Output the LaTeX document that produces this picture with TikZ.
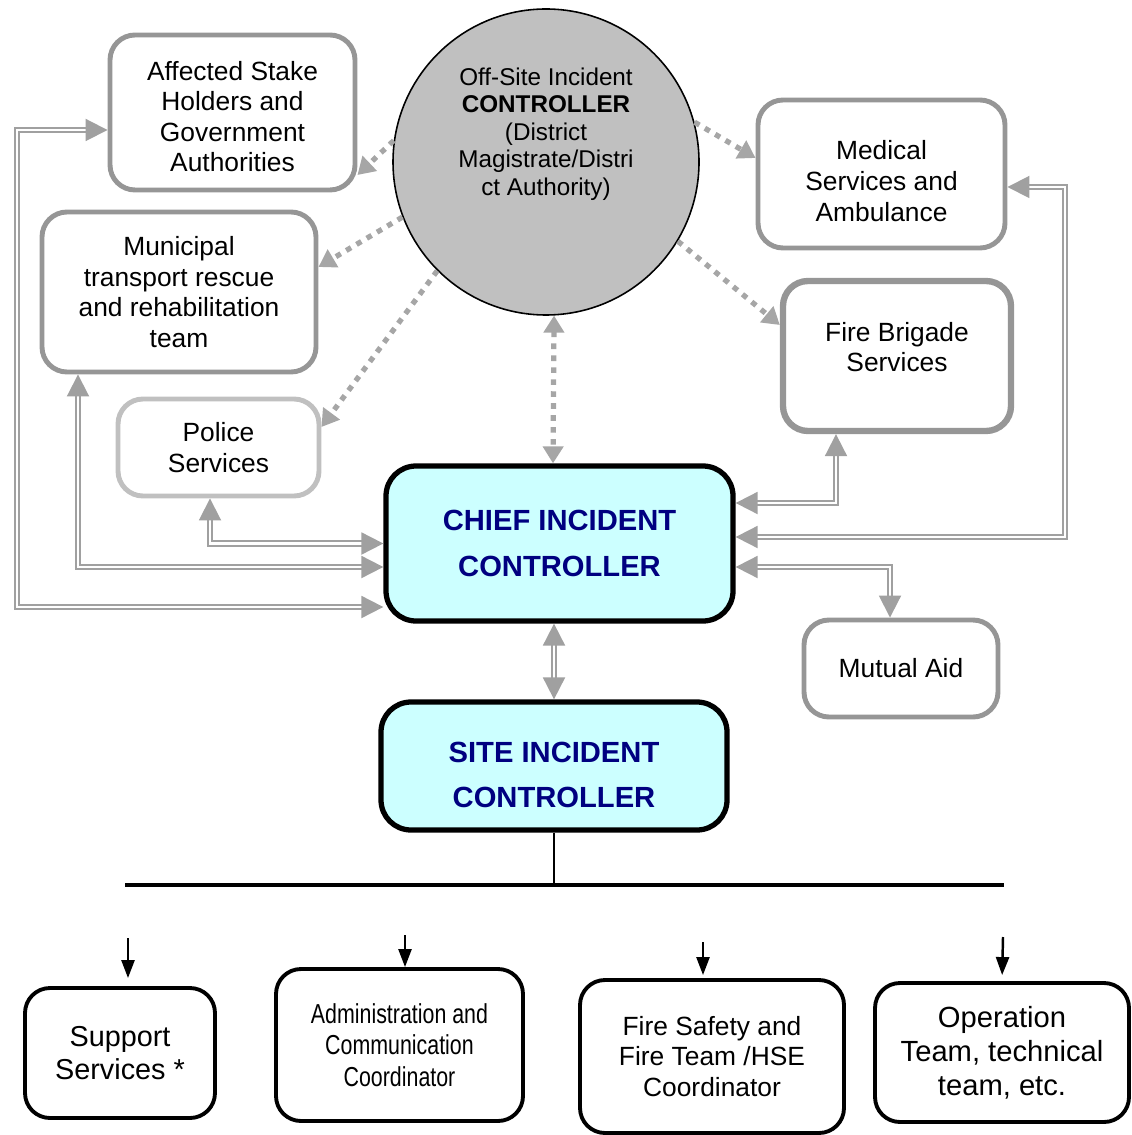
\documentclass[tikz,border=0pt]{standalone}
\usepackage{fontspec}
\setmainfont{Liberation Sans}
\newfontfamily\narrowfont[FakeStretch=0.78]{Liberation Sans}
\usetikzlibrary{arrows.meta}

\definecolor{boxgrey}{RGB}{150,150,150}
\definecolor{lightgrey}{RGB}{192,192,192}
\definecolor{circlegrey}{RGB}{192,192,192}
\definecolor{palecyan}{RGB}{204,255,255}
\definecolor{navyblue}{RGB}{0,0,128}

\begin{document}
\begin{tikzpicture}[%
    >={Triangle[width=2.2mm,length=2.2mm]},
    every node/.style={align=center, inner sep=1pt},
    txt/.style={font=\fontsize{7.5}{8.7}\selectfont},
    greybox/.style={txt, draw=boxgrey, line width=1.4pt, rounded corners=2.5mm, fill=white},
    ctrlbox/.style={draw=black, line width=1.5pt, rounded corners=3mm, fill=palecyan,
                    text=navyblue, font=\fontsize{8.3}{13}\selectfont\bfseries},
    teambox/.style={txt, draw=black, line width=1.1pt, rounded corners=2.5mm},
    dotlink/.style={draw=boxgrey!85, line width=1.5pt, dash pattern=on 1.6pt off 1.8pt,
                    -{Triangle[width=2mm,length=1.7mm]}},
    duallink/.style={draw=boxgrey!90, double=white, line width=0.55pt,
                     double distance=0.75pt, <->},
    downlink/.style={draw=black, line width=0.7pt, -{Triangle[width=1.3mm,length=1.8mm]}}
  ]
    \useasboundingbox (0,0) rectangle (11.31,-11.35);

    % off-site controller and outside agencies
    \node[circle, draw=black, line width=0.45pt, fill=circlegrey, minimum size=3.06cm,
          label={[yshift=2.8mm, font=\fontsize{6.9}{7.8}\selectfont]center:Off-Site Incident\\\textbf{CONTROLLER}\\(District\\Magistrate/Distri\\ct Authority)}]
          (OC) at (5.46,-1.62) {};
    \node[greybox, minimum width=2.45cm, minimum height=1.55cm, text height=11.9mm] (AS)
          at (2.325,-1.125) {Affected Stake\\Holders and\\Government\\Authorities};
    \node[greybox, minimum width=2.47cm, minimum height=1.48cm, text height=9.45mm] (MS)
          at (8.815,-1.74) {Medical\\Services and\\Ambulance};
    \node[greybox, minimum width=2.74cm, minimum height=1.60cm] (MT) at (1.79,-2.92)
          {Municipal\\transport rescue\\and rehabilitation\\team};
    \node[greybox, line width=1.8pt, minimum width=2.28cm, minimum height=1.50cm,
          text depth=1.8mm] (FB) at (8.97,-3.56) {Fire Brigade\\Services};
    \node[greybox, draw=lightgrey, minimum width=2.01cm, minimum height=0.97cm] (PS)
          at (2.185,-4.475) {Police\\Services};
    \node[greybox, minimum width=1.94cm, minimum height=0.97cm] (MA) at (9.01,-6.685)
          {Mutual Aid};

    % controllers
    \node[ctrlbox, minimum width=3.47cm, minimum height=1.55cm] (CIC) at (5.595,-5.435)
          {CHIEF INCIDENT\\CONTROLLER};
    \node[ctrlbox, minimum width=3.46cm, minimum height=1.28cm, text height=8.4mm] (SIC)
          at (5.54,-7.66) {SITE INCIDENT\\CONTROLLER};

    % site teams
    \node[teambox, minimum width=1.90cm, minimum height=1.30cm,
          font=\fontsize{8.2}{9.4}\selectfont] (SS) at (1.20,-10.53) {Support\\Services *};
    \node[teambox, minimum width=2.47cm, minimum height=1.52cm,
          font=\fontsize{7.8}{8.9}\narrowfont] (AC) at (3.995,-10.45)
          {Administration and\\Communication\\Coordinator};
    \node[teambox, minimum width=2.64cm, minimum height=1.53cm] (FS) at (7.12,-10.565)
          {Fire Safety and\\Fire Team /HSE\\Coordinator};
    \node[teambox, minimum width=2.54cm, minimum height=1.39cm,
          font=\fontsize{8.3}{9.7}\selectfont] (OT) at (10.02,-10.525)
          {Operation\\Team, technical\\team, etc.};

    \coordinate (KL) at (0.17,-3);
    \coordinate (KR) at (10.65,-3);
    \coordinate (BL) at (1.25,-8.85);
    \coordinate (BR) at (10.04,-8.85);
    \coordinate (T1) at (1.28,-9.38);
    \coordinate (T2) at (4.05,-9.35);
    \coordinate (T3) at (7.03,-9.42);
    \coordinate (T4) at (10.03,-9.37);

    % dotted links from the off-site controller
    \path (OC.172)  edge[dotlink] ([yshift=-6.25mm]AS.east)
          (OC.201)  edge[dotlink] ([yshift=2.5mm]MT.east)
          (OC.225)  edge[dotlink] ([yshift=2.05mm]PS.east)
          (OC.15.7) edge[dotlink] ([yshift=1.6mm]MS.west)
          (OC.-31.7) edge[dotlink] ([yshift=3.1mm]FB.west)
          (OC.-87.4) edge[dotlink, {Triangle[width=2mm,length=1.7mm]}-{Triangle[width=2mm,length=1.7mm]}]
                     ([xshift=-0.65mm]CIC.north);

    % double links from the chief incident controller
    \draw[duallink] ([yshift=-6.35mm]CIC.west) -| (KL) |- ([yshift=-1.75mm]AS.west);
    \draw[duallink] ([yshift=-2.35mm]CIC.west) -| ([xshift=-10.1mm]MT.south);
    \draw[duallink] (CIC.west) -| ([xshift=-0.85mm]PS.south);
    \draw[duallink] ([yshift=4.05mm]CIC.east) -| ([xshift=-6.1mm]FB.south);
    \draw[duallink] ([yshift=0.65mm]CIC.east) -| (KR) |- ([yshift=-1.3mm]MS.east);
    \draw[duallink] ([yshift=-2.35mm]CIC.east) -| ([xshift=-1.1mm]MA.north);
    \draw[duallink] (SIC.north |- CIC.south) -- (SIC.north);

    % site incident controller to the teams
    \draw[line width=0.6pt] (SIC.south) -- (SIC.south |- BL);
    \draw[line width=1pt] (BL) -- (BR);
    \draw[downlink, shorten >=0.8mm] (T1) -- (T1 |- SS.north);
    \draw[downlink] (T2) -- (T2 |- AC.north);
    \draw[downlink, shorten >=0.3mm] (T3) -- (T3 |- FS.north);
    \draw[downlink, shorten >=0.6mm] (T4) -- ([xshift=-0.1mm]T4 |- OT.north);
\end{tikzpicture}
\end{document}
